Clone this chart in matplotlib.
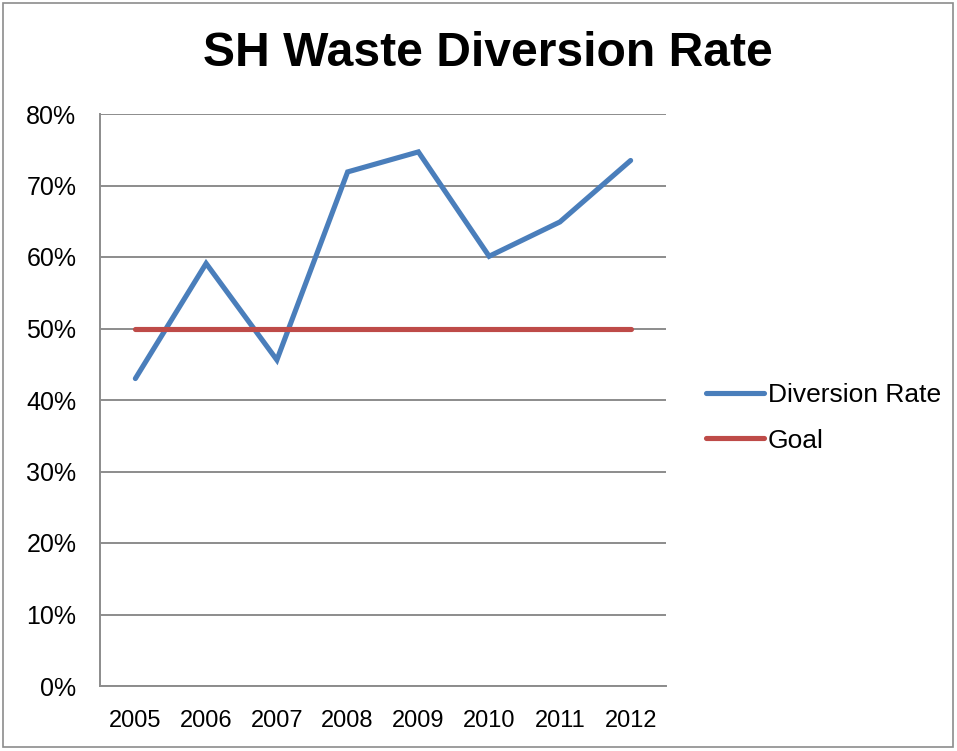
import matplotlib
matplotlib.use("Agg")
import matplotlib.pyplot as plt
from matplotlib.patches import Rectangle

years = ["2005", "2006", "2007", "2008", "2009", "2010", "2011", "2012"]
diversion_rate = [43.0, 59.1, 45.6, 71.9, 74.7, 60.1, 64.9, 73.5]
goal = [50, 50, 50, 50, 50, 50, 50, 50]
y_ticks = [0, 10, 20, 30, 40, 50, 60, 70, 80]

plt.rcParams["font.family"] = ["Liberation Sans", "DejaVu Sans"]

W, H = 957, 751
fig = plt.figure(figsize=(W / 100, H / 100), dpi=100)
ax = fig.add_axes([100 / W, (H - 686) / H, 566 / W, 572 / H])

x = list(range(len(years)))
ax.plot(x, diversion_rate, color="#4A7EBB", lw=3.7, solid_capstyle="round",
        solid_joinstyle="miter", label="Diversion Rate", zorder=3)
ax.plot(x, goal, color="#BE4B48", lw=3.7, solid_capstyle="round",
        label="Goal", zorder=3)

ax.set_xlim(-0.5, len(years) - 0.5)
ax.set_ylim(0, 80)
ax.set_yticks(y_ticks)
ax.set_yticklabels([f"{v}%" for v in y_ticks])
ax.set_xticks(x)
ax.set_xticklabels(years)
ax.tick_params(axis="both", length=0, colors="black")
ax.tick_params(axis="y", pad=17, labelsize=18)
ax.tick_params(axis="x", pad=17, labelsize=17)
ax.grid(axis="y", color="#8c8c8c", lw=1.4)
ax.set_axisbelow(True)
for s in ["top", "right"]:
    ax.spines[s].set_visible(False)
for s in ["left", "bottom"]:
    ax.spines[s].set_color("#8c8c8c")
    ax.spines[s].set_linewidth(1.4)

fig.text(488 / W, 1 - 54 / H, "SH Waste Diversion Rate", ha="center", va="center",
         fontsize=34.6, fontweight="bold")

ax.legend(loc="center left", bbox_to_anchor=(706 / W, 1 - 418 / H),
          bbox_transform=fig.transFigure, frameon=False, fontsize=19,
          handlelength=2.2, handletextpad=0.15, labelspacing=0.8,
          borderaxespad=0, borderpad=0)

fig.patches.append(Rectangle((3 / W, 4 / H), 950 / W, 744 / H, transform=fig.transFigure,
                             fill=False, edgecolor="#8c8c8c", lw=1.2))

fig.savefig("out.png", dpi=100)
